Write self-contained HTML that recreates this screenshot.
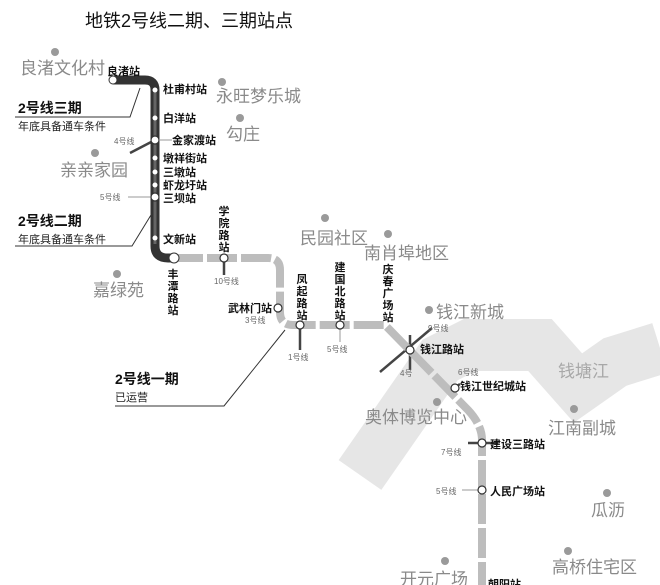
<!DOCTYPE html>
<html><head><meta charset="utf-8"><style>
html,body{margin:0;padding:0;background:#fff;}
svg{display:block;font-family:"Liberation Sans","Noto Sans CJK SC",sans-serif;}
.pl{fill:#8a8a8a;font-size:17px;}
.pd{fill:#9a9a9a;}
.st{fill:#111;font-size:11px;font-weight:bold;}
.ln{fill:#666;font-size:8px;}
</style></head><body>
<svg width="660" height="585" viewBox="0 0 660 585" xmlns="http://www.w3.org/2000/svg">
<rect width="660" height="585" fill="#fff"/>
<!-- river -->
<polyline points="360,475 440,360 470,345 540,345 578,388 615,362 660,348" fill="none" stroke="#e6e6e6" stroke-width="52" stroke-linejoin="miter"/>
<text x="558" y="377" fill="#a8a8a8" font-size="17">钱塘江</text>
<!-- title -->
<text x="85" y="27" font-size="18" fill="#111">地铁2号线二期、三期站点</text>
<!-- places -->
<g class="pd">
<circle cx="55" cy="52" r="4"/><circle cx="222" cy="82" r="4"/><circle cx="240" cy="118" r="4"/>
<circle cx="95" cy="153" r="4"/><circle cx="117" cy="274" r="4"/><circle cx="325" cy="218" r="4"/>
<circle cx="388" cy="234" r="4"/><circle cx="429" cy="310" r="4"/><circle cx="437" cy="402" r="4"/>
<circle cx="574" cy="409" r="4"/><circle cx="607" cy="493" r="4"/><circle cx="568" cy="551" r="4"/>
<circle cx="445" cy="561" r="4"/>
</g>
<g class="pl">
<text x="20" y="74">良渚文化村</text><text x="216" y="102">永旺梦乐城</text><text x="226" y="140">勾庄</text>
<text x="60" y="176">亲亲家园</text><text x="93" y="296">嘉绿苑</text><text x="300" y="244">民园社区</text>
<text x="364" y="259">南肖埠地区</text><text x="436" y="318">钱江新城</text><text x="365" y="423">奥体博览中心</text>
<text x="548" y="434">江南副城</text><text x="591" y="516">瓜沥</text><text x="552" y="573">高桥住宅区</text>
<text x="400" y="585">开元广场</text>
</g>
<!-- callout lines -->
<g fill="none" stroke="#333" stroke-width="1">
<polyline points="15,117 130,117 140,88"/>
<polyline points="15,246 132,246 151,215"/>
<polyline points="115,406 224,406 285,330"/>
</g>
<text x="18" y="113" font-size="14" font-weight="bold" fill="#111">2号线三期</text>
<text x="18" y="130" font-size="11" fill="#222">年底具备通车条件</text>
<text x="18" y="226" font-size="14" font-weight="bold" fill="#111">2号线二期</text>
<text x="18" y="243" font-size="11" fill="#222">年底具备通车条件</text>
<text x="115" y="384" font-size="14" font-weight="bold" fill="#111">2号线一期</text>
<text x="115" y="401" font-size="11" fill="#222">已运营</text>
<!-- interchange stubs -->
<g stroke="#444" stroke-width="2.5">
<line x1="130" y1="153" x2="155" y2="140"/>
<line x1="300" y1="325" x2="300" y2="350"/>
<line x1="224" y1="258" x2="224" y2="275"/>
<line x1="380" y1="372" x2="432" y2="328"/>
<line x1="410" y1="335" x2="410" y2="370"/>
<line x1="448" y1="392" x2="460" y2="384"/>
<line x1="468" y1="443" x2="498" y2="443"/>
</g>
<g stroke="#999" stroke-width="1">
<line x1="128" y1="197" x2="155" y2="197"/><line x1="462" y1="490" x2="480" y2="490"/>
<line x1="340" y1="325" x2="340" y2="342"/><line x1="160" y1="140" x2="172" y2="140"/>
</g>
<!-- phase 1 light dashed line -->
<path d="M173,258 H268 Q280,258 280,270 V312 Q280,325 293,325 H385 L468,410 Q482,425 482,440 V585" fill="none" stroke="#bdbdbd" stroke-width="8" stroke-dasharray="30 4"/>
<!-- dark line -->
<path d="M113,80 H145 Q155,80 155,90 V246 Q155,258 168,258 H173" fill="none" stroke="#333" stroke-width="9"/>
<path d="M155,92 V244" fill="none" stroke="#666" stroke-width="3"/>
<g fill="#fff" stroke="#333" stroke-width="1">
<circle cx="113" cy="80" r="4"/><circle cx="174" cy="258" r="5"/>
</g>
<g fill="#fff">
<circle cx="155" cy="90" r="2.5"/><circle cx="155" cy="118" r="2.5"/><circle cx="155" cy="158" r="2.5"/>
<circle cx="155" cy="172" r="2.5"/><circle cx="155" cy="185" r="2.5"/><circle cx="155" cy="238" r="2.5"/>
</g>
<g fill="#fff" stroke="#333" stroke-width="1.2">
<circle cx="155" cy="140" r="4"/><circle cx="155" cy="197" r="4"/><circle cx="224" cy="258" r="4"/>
<circle cx="300" cy="325" r="4"/><circle cx="340" cy="325" r="4"/><circle cx="410" cy="350" r="4"/>
<circle cx="455" cy="388" r="4"/><circle cx="482" cy="443" r="4"/><circle cx="482" cy="490" r="4"/>
<circle cx="278" cy="308" r="4"/>
</g>
<!-- station labels -->
<g class="st">
<text x="107" y="75">良渚站</text><text x="163" y="93">杜甫村站</text><text x="163" y="122">白洋站</text>
<text x="172" y="144">金家渡站</text><text x="163" y="162">墩祥街站</text><text x="163" y="176">三墩站</text>
<text x="163" y="189">虾龙圩站</text><text x="163" y="202">三坝站</text><text x="163" y="243">文新站</text>
<text x="228" y="312">武林门站</text><text x="420" y="353">钱江路站</text><text x="460" y="390">钱江世纪城站</text>
<text x="490" y="448">建设三路站</text><text x="490" y="495">人民广场站</text><text x="488" y="588">朝阳站</text>
</g>
<g class="st" text-anchor="middle">
<text x="173" y="278">丰</text><text x="173" y="290">潭</text><text x="173" y="302">路</text><text x="173" y="314">站</text>
<text x="224" y="215">学</text><text x="224" y="227">院</text><text x="224" y="239">路</text><text x="224" y="251">站</text>
<text x="302" y="283">凤</text><text x="302" y="295">起</text><text x="302" y="307">路</text><text x="302" y="319">站</text>
<text x="340" y="271">建</text><text x="340" y="283">国</text><text x="340" y="295">北</text><text x="340" y="307">路</text><text x="340" y="319">站</text>
<text x="388" y="273">庆</text><text x="388" y="285">春</text><text x="388" y="297">广</text><text x="388" y="309">场</text><text x="388" y="321">站</text>
</g>
<g class="ln">
<text x="114" y="144">4号线</text><text x="100" y="200">5号线</text><text x="214" y="284">10号线</text>
<text x="245" y="323">3号线</text><text x="288" y="360">1号线</text><text x="327" y="352">5号线</text>
<text x="428" y="331">9号线</text><text x="400" y="376">4号</text><text x="458" y="375">6号线</text>
<text x="441" y="455">7号线</text><text x="436" y="494">5号线</text>
</g>
</svg>
</body></html>
